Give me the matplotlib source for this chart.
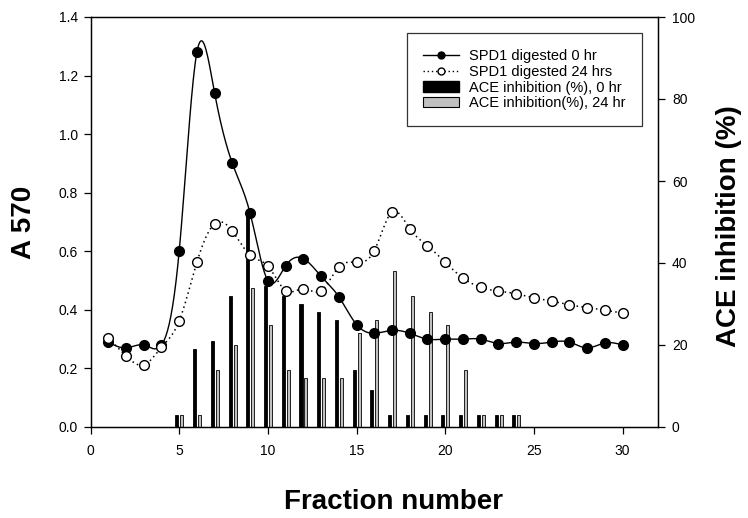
"""Fraction profile of SPD1 digests with ACE inhibition bars."""

import matplotlib
matplotlib.use("Agg")
import matplotlib.pyplot as plt
import numpy as np
from matplotlib.lines import Line2D
from matplotlib.patches import Patch

plt.rcParams["font.family"] = ["Liberation Sans", "DejaVu Sans"]

# absorbance at 570 nm per fraction
fractions = np.arange(1, 31)
a570_0hr = [0.29, 0.27, 0.28, 0.28, 0.60, 1.28, 1.14, 0.90, 0.73, 0.50,
            0.55, 0.575, 0.515, 0.445, 0.35, 0.32, 0.33, 0.32, 0.30, 0.30,
            0.30, 0.30, 0.285, 0.29, 0.285, 0.29, 0.29, 0.27, 0.287, 0.28]
a570_24hr = [0.305, 0.243, 0.212, 0.272, 0.362, 0.563, 0.694, 0.669, 0.586, 0.55,
             0.466, 0.472, 0.465, 0.546, 0.562, 0.602, 0.734, 0.677, 0.619, 0.562,
             0.509, 0.477, 0.464, 0.455, 0.441, 0.43, 0.417, 0.408, 0.399, 0.389]

# ACE inhibition (%) per fraction
bar_fractions = np.arange(5, 25)
ace_0hr = [3, 19, 21, 32, 53, 34.5, 32, 30, 28, 26,
           14, 9, 3, 3, 3, 3, 3, 3, 3, 3]
ace_24hr = [3, 3, 14, 20, 34, 25, 14, 12, 12, 12,
            23, 26, 38, 32, 28, 25, 14, 3, 3, 3]


def natural_spline(x, y, n=600):
    """Smooth curve through the points (natural cubic spline)."""
    x = np.asarray(x, dtype=float)
    y = np.asarray(y, dtype=float)
    h = np.diff(x)
    k = len(x)
    A = np.zeros((k, k))
    r = np.zeros(k)
    A[0, 0] = A[-1, -1] = 1.0
    for i in range(1, k - 1):
        A[i, i - 1] = h[i - 1]
        A[i, i] = 2 * (h[i - 1] + h[i])
        A[i, i + 1] = h[i]
        r[i] = 6 * ((y[i + 1] - y[i]) / h[i] - (y[i] - y[i - 1]) / h[i - 1])
    m = np.linalg.solve(A, r)
    xs = np.linspace(x[0], x[-1], n)
    idx = np.clip(np.searchsorted(x, xs) - 1, 0, k - 2)
    x0, x1 = x[idx], x[idx + 1]
    hh = x1 - x0
    t0, t1 = x1 - xs, xs - x0
    ys = (m[idx] * t0 ** 3 + m[idx + 1] * t1 ** 3) / (6 * hh) \
        + (y[idx] / hh - m[idx] * hh / 6) * t0 \
        + (y[idx + 1] / hh - m[idx + 1] * hh / 6) * t1
    return xs, ys


fig = plt.figure(figsize=(7.48, 5.18), dpi=100)
ax = fig.add_axes([90.5 / 748, 1 - 427 / 518, (658 - 90.5) / 748, (427 - 17) / 518])
ax2 = ax.twinx()

# bars on the right-hand axis, drawn underneath the curves
ax2.bar(bar_fractions - 0.13, ace_0hr, width=0.17, color="black",
        edgecolor="black", linewidth=0.6)
ax2.bar(bar_fractions + 0.15, ace_24hr, width=0.17, color="#c0c0c0",
        edgecolor="black", linewidth=0.6)
ax2.set_ylim(0, 100)
ax2.set_yticks([0, 20, 40, 60, 80, 100])

ax.set_zorder(ax2.get_zorder() + 1)
ax.patch.set_visible(False)

xs, ys = natural_spline(fractions, a570_0hr)
ax.plot(xs, ys, color="black", lw=1.0)
ax.plot(fractions, a570_0hr, "o", color="black", ms=7)

xs, ys = natural_spline(fractions, a570_24hr)
ax.plot(xs, ys, color="black", lw=1.1, linestyle=(0, (1, 2.2)))
ax.plot(fractions, a570_24hr, "o", mfc="white", mec="black", mew=1.0, ms=7)

ax.set_xlim(0, 32)
ax.set_ylim(0, 1.4)
ax.set_xticks([0, 5, 10, 15, 20, 25, 30])
ax.set_yticks(np.arange(0, 1.41, 0.2))
ax.yaxis.set_major_formatter(matplotlib.ticker.FormatStrFormatter("%.1f"))

for a in (ax, ax2):
    a.tick_params(direction="out", length=5, width=0.9, labelsize=10)
    for s in a.spines.values():
        s.set_linewidth(0.9)
ax.tick_params(axis="x", pad=7)
ax.tick_params(axis="y", pad=4)
ax2.tick_params(axis="y", pad=5)

fig.text(24 / 748, 1 - 222 / 518, "A 570", rotation=90, fontsize=20,
         fontweight="bold", ha="center", va="center")
fig.text(729 / 748, 1 - 226 / 518, "ACE inhibition (%)", rotation=90, fontsize=20,
         fontweight="bold", ha="center", va="center")
fig.text(394 / 748, 1 - 502 / 518, "Fraction number", fontsize=20,
         fontweight="bold", ha="center", va="center")

handles = [
    Line2D([], [], color="black", lw=1.0, marker="o", ms=5),
    Line2D([], [], color="black", lw=1.0, linestyle=(0, (1, 2)), marker="o",
           ms=5, mfc="white", mec="black"),
    Patch(facecolor="black", edgecolor="black"),
    Patch(facecolor="#c0c0c0", edgecolor="black", linewidth=0.8),
]
labels = ["SPD1 digested 0 hr", "SPD1 digested 24 hrs",
          "ACE inhibition (%), 0 hr", "ACE inhibition(%), 24 hr"]
leg = ax.legend(handles, labels, loc="upper right", fontsize=10.5,
                bbox_to_anchor=(642 / 748, 1 - 33 / 518),
                bbox_transform=fig.transFigure, borderaxespad=0,
                frameon=True, fancybox=False, borderpad=1.1, labelspacing=0.12,
                handlelength=2.5, handletextpad=0.7)
leg.get_frame().set_edgecolor("black")
leg.get_frame().set_linewidth(0.9)

fig.savefig("out.png", dpi=100)
